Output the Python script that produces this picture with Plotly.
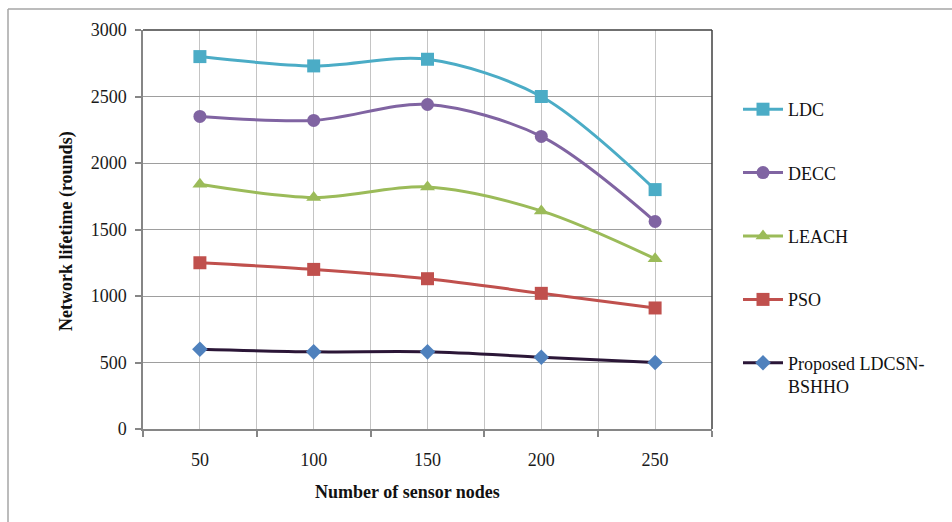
import plotly.graph_objects as go

# Network lifetime versus number of sensor nodes
nodes = [50, 100, 150, 200, 250]
ldc = [2800, 2730, 2780, 2500, 1800]
decc = [2350, 2320, 2440, 2200, 1560]
leach = [1840, 1740, 1820, 1640, 1280]
pso = [1250, 1200, 1130, 1020, 910]
proposed = [600, 580, 580, 540, 500]

series = [
    ("LDC", ldc, "#4BACC6", "#4BACC6", "square", 13),
    ("DECC", decc, "#8064A2", "#8064A2", "circle", 13),
    ("LEACH", leach, "#9BBB59", "#9BBB59", "triangle-up", 13),
    ("PSO", pso, "#C0504D", "#C0504D", "square", 13),
    ("Proposed LDCSN-<br>BSHHO", proposed, "#2B1637", "#4F81BD", "diamond", 12),
]

FONT = "Liberation Serif, Times New Roman, serif"

fig = go.Figure()
for i, (name, vals, lc, mc, sym, sz) in enumerate(series):
    fig.add_trace(go.Scatter(
        x=nodes, y=vals, name=name, mode="lines+markers",
        legendgroup=f"g{i}",
        line=dict(color=lc, width=3, shape="spline", smoothing=0.9),
        marker=dict(symbol=sym, size=sz, color=mc, line=dict(width=0)),
    ))

W, H = 952, 522
L, R, T, B = 143, 240, 30, 93
pw, ph = W - L - R, H - T - B


def px(x):
    return (x - L) / pw


def py(y):
    return (H - B - y) / ph


shapes = [
    # plot frame, top and right edges
    dict(type="line", xref="paper", yref="paper", x0=0, x1=1, y0=1, y1=1,
         line=dict(color="#404040", width=1.5)),
    dict(type="line", xref="paper", yref="paper", x0=1, x1=1, y0=0, y1=1,
         line=dict(color="#404040", width=1.5)),
    # outer chart frame
    dict(type="line", xref="paper", yref="paper", x0=px(8), x1=px(952), y0=py(9), y1=py(9),
         line=dict(color="#A6A6A6", width=1.5)),
    dict(type="line", xref="paper", yref="paper", x0=px(8), x1=px(8), y0=py(9), y1=py(522),
         line=dict(color="#A6A6A6", width=1.5)),
]

annotations = [
    dict(text="<b>Number of sensor nodes</b>", xref="paper", yref="paper",
         x=px(407), y=py(492), showarrow=False, xanchor="center", yanchor="middle",
         font=dict(family=FONT, size=18, color="#111")),
    dict(text="<b>Network lifetime (rounds)</b>", xref="paper", yref="paper",
         x=px(66), y=py(231), showarrow=False, xanchor="center", yanchor="middle",
         textangle=-90, font=dict(family=FONT, size=18, color="#111")),
]

fig.update_layout(
    width=W, height=H,
    margin=dict(l=L, r=R, t=T, b=B),
    paper_bgcolor="white", plot_bgcolor="white",
    font=dict(family=FONT, size=17, color="#1a1a1a"),
    shapes=shapes, annotations=annotations,
    legend=dict(x=px(738), y=py(91), xanchor="left", yanchor="top",
                traceorder="grouped", tracegroupgap=37, valign="top",
                font=dict(family=FONT, size=18, color="#111"),
                bgcolor="rgba(0,0,0,0)", itemwidth=40),
    xaxis=dict(
        range=[25, 275], tickvals=nodes, ticktext=[str(v) for v in nodes],
        showgrid=True, gridcolor="#C4C4C4", gridwidth=1,
        ticks="outside", ticklen=14, tickcolor="rgba(0,0,0,0)",
        showline=True, linecolor="#868686", linewidth=1.5,
        zeroline=False,
        tickfont=dict(family=FONT, size=18, color="#1a1a1a"),
        minor=dict(tick0=25, dtick=50, showgrid=True, gridcolor="#C4C4C4", gridwidth=1,
                   ticks="outside", ticklen=6, tickcolor="#868686", tickwidth=1.5),
    ),
    yaxis=dict(
        range=[0, 3000], dtick=500, tick0=0,
        showgrid=True, gridcolor="#9E9E9E", gridwidth=1,
        ticks="outside", ticklen=6, tickcolor="#868686", tickwidth=1.5,
        showline=True, linecolor="#868686", linewidth=1.5,
        zeroline=False, ticklabelstandoff=5,
        tickfont=dict(family=FONT, size=18, color="#1a1a1a"),
    ),
)

fig.write_html("out.html")
